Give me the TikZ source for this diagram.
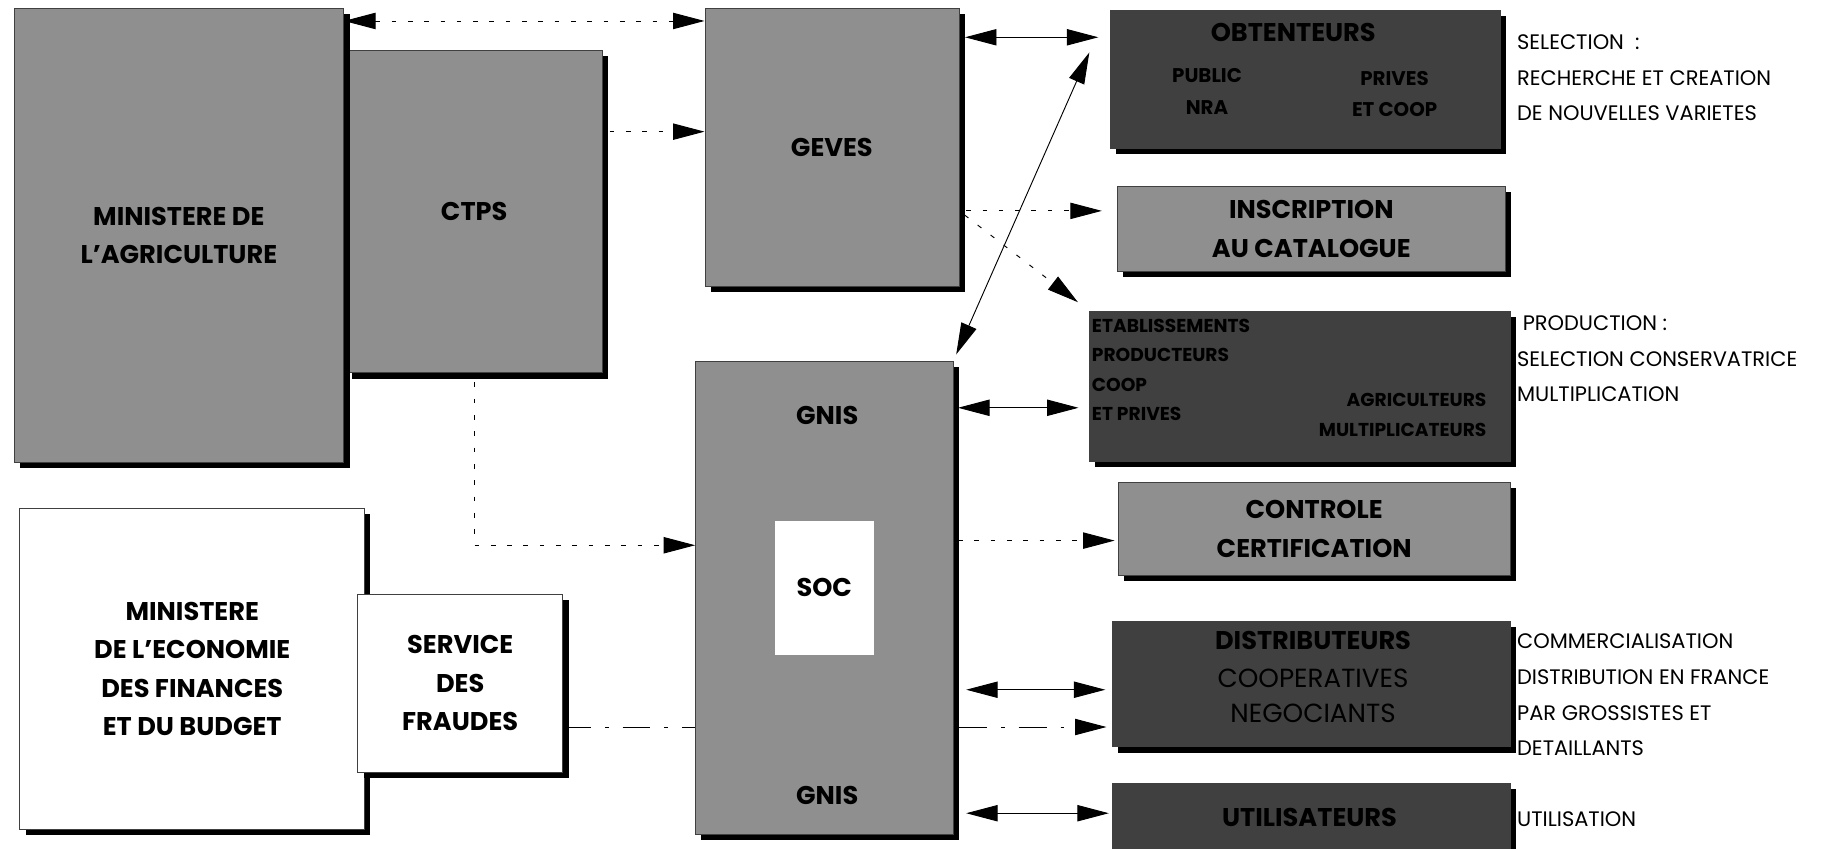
\documentclass[tikz,border=0pt]{standalone}
\usepackage{fontspec}
\setmainfont{Poppins}
\usetikzlibrary{arrows.meta,shadows,calc}
\definecolor{midgray}{gray}{0.56}
\definecolor{deepgray}{gray}{0.25}
\begin{document}
\begin{tikzpicture}[x=1pt,y=-1pt,
  box/.style={draw=black!75, line width=0.6pt, rectangle, inner sep=0pt,
    drop shadow={shadow xshift=5pt, shadow yshift=-5pt, fill=black, opacity=1}},
  midbox/.style={box, fill=midgray},
  darkbox/.style={box, fill=deepgray},
  whitebox/.style={box, fill=white},
  lbl/.style={font=\fontsize{22}{33}\selectfont\bfseries, align=center, text=black},
  smalllbl/.style={font=\fontsize{16}{27}\selectfont\bfseries, text=black},
  reglbl/.style={font=\fontsize{22.5}{30}\selectfont, text=black},
  side/.style={font=\fontsize{18}{30.5}\selectfont, anchor=west, align=left, inner sep=0pt},
  tipone/.style={-{Triangle[length=27pt,width=14pt]}},
  tiptwo/.style={{Triangle[length=27pt,width=14pt]}-{Triangle[length=27pt,width=14pt]}},
  conn/.style={line width=0.8pt},
  dotconn/.style={line width=0.8pt, dash pattern=on 4pt off 10pt},
  dashdot/.style={line width=0.8pt, dash pattern=on 24pt off 12pt on 3pt off 12pt},
]
\useasboundingbox (0,0) rectangle (1563,728);

% ---------- left column ----------
\node[midbox, minimum width=220pt, minimum height=277pt] (ctps) at (407,181.5) {};
\node[lbl] (ctpslbl) at (ctps) {CTPS};
\node[midbox, minimum width=283pt, minimum height=390pt, lbl] (agri) at (153.5,202) {MINISTERE DE\\L'AGRICULTURE};
\node[whitebox, minimum width=296pt, minimum height=276pt, lbl] (eco) at (165,574) {MINISTERE\\DE L'ECONOMIE\\DES FINANCES\\ET DU BUDGET};
\node[whitebox, minimum width=176pt, minimum height=153pt, lbl] (fraudes) at (395,586.5) {SERVICE\\DES\\FRAUDES};

% ---------- middle column ----------
\node[midbox, minimum width=218pt, minimum height=239pt, lbl] (geves) at (714,126.5) {GEVES};
\node[midbox, minimum width=221pt, minimum height=406pt] (gnis) at (707.5,513) {};
\node[lbl] (gnistop) at (710,357) {GNIS};
\node[lbl] (gnisbot) at (710,683) {GNIS};
\node[fill=white, minimum width=85pt, minimum height=115pt, inner sep=0pt, lbl] (soc) at (707.5,504.5) {SOC};

% ---------- right column ----------
\node[darkbox, minimum width=335pt, minimum height=118pt] (obt) at (1120.5,68) {};
\node[lbl] (obtt) at (1110,28) {OBTENTEURS};
\node[smalllbl, align=center, font=\fontsize{17}{27}\selectfont\bfseries] (obtpub) at (1036,78.5) {PUBLIC\\NRA};
\node[smalllbl, align=center, font=\fontsize{17}{27}\selectfont\bfseries] (obtpriv) at (1197,80.5) {PRIVES\\ET COOP};

\node[midbox, minimum width=333pt, minimum height=73pt, lbl] (insc) at (1125.5,196.5) {INSCRIPTION\\AU CATALOGUE};

\node[darkbox, minimum width=361pt, minimum height=129pt] (prod) at (1115.5,331.5) {};
\node[smalllbl, anchor=west, inner sep=0pt] (p1) at (937,280) {ETABLISSEMENTS};
\node[smalllbl, anchor=west, inner sep=0pt] (p2) at (937,305) {PRODUCTEURS};
\node[smalllbl, anchor=west, inner sep=0pt] (p3) at (937,330) {COOP};
\node[smalllbl, anchor=west, inner sep=0pt] (p4) at (937,355) {ET PRIVES};
\node[smalllbl, anchor=east, inner sep=0pt] (p5) at (1276,343) {AGRICULTEURS};
\node[smalllbl, anchor=east, inner sep=0pt] (p6) at (1276,369) {MULTIPLICATEURS};

\node[midbox, minimum width=336pt, minimum height=80pt, lbl] (ctrl) at (1128,454) {CONTROLE\\CERTIFICATION};

\node[darkbox, minimum width=341pt, minimum height=108pt] (dist) at (1125.5,587) {};
\node[lbl] (d1) at (1127,550) {DISTRIBUTEURS};
\node[reglbl] (d2) at (1127,582) {COOPERATIVES};
\node[reglbl] (d3) at (1127,612) {NEGOCIANTS};

\node[darkbox, minimum width=341pt, minimum height=66pt] (util) at (1125.5,705) {};
\node[lbl] (u1) at (1124,702) {UTILISATEURS};

% ---------- side texts ----------
\node[side] (s1) at (1302,67) {SELECTION~~:\\RECHERCHE ET CREATION\\DE NOUVELLES VARIETES};
\node[side] (s2) at (1302,308) {\ PRODUCTION :\\SELECTION CONSERVATRICE\\MULTIPLICATION};
\node[side] (s3) at (1302,596.5) {COMMERCIALISATION\\DISTRIBUTION EN FRANCE\\PAR GROSSISTES ET\\DETAILLANTS};
\node[side] (s4) at (1302,703) {UTILISATION};

% ---------- connector levels ----------
\coordinate (r1) at (0,18);
\coordinate (r2) at (0,113);
\coordinate (r3) at (0,32);
\coordinate (r4) at (0,181);
\coordinate (r5) at (0,350);
\coordinate (r6) at (0,464);
\coordinate (r7) at (0,468);
\coordinate (r8) at (0,592);
\coordinate (r9) at (0,698);
\coordinate (r10) at (0,624);
\coordinate (otip) at (935,45);

% ---------- connectors ----------
\draw[dotconn, tiptwo] (agri.east |- r1) -- (geves.west |- r1);
\draw[dotconn, tipone, shorten <=6pt] (ctps.east |- r2) -- (geves.west |- r2);
\draw[dotconn, tipone, shorten <=8pt] (ctps.south) |- (gnis.west |- r7);
\draw[conn, tiptwo, shorten <=5pt, shorten >=10pt] (geves.east |- r3) -- (obt.west |- r3);
\draw[dotconn, tipone, shorten <=6pt, shorten >=13pt] (geves.east |- r4) -- (insc.west |- r4);
\draw[dotconn, tipone, shorten <=6pt, shorten >=12pt] (geves.east |- r4) -- (prod.north west);
\draw[conn, tiptwo, shorten <=6pt] (gnis.north east) -- (otip);
\draw[conn, tiptwo, shorten <=4pt, shorten >=9pt] (gnis.east |- r5) -- (prod.west |- r5);
\draw[dotconn, tipone, shorten <=4pt, shorten >=3pt] (gnis.east |- r6) -- (ctrl.west |- r6);
\draw[conn, tiptwo, shorten <=11pt, shorten >=6pt] (gnis.east |- r8) -- (dist.west |- r8);
\draw[conn, tiptwo, shorten <=11pt, shorten >=3pt] (gnis.east |- r9) -- (util.west |- r9);
\draw[dashdot] (fraudes.east |- r10) -- (gnis.west |- r10);
\draw[dashdot, tipone, shorten <=5pt, shorten >=5pt] (gnis.east |- r10) -- (dist.west |- r10);
\end{tikzpicture}
\end{document}
